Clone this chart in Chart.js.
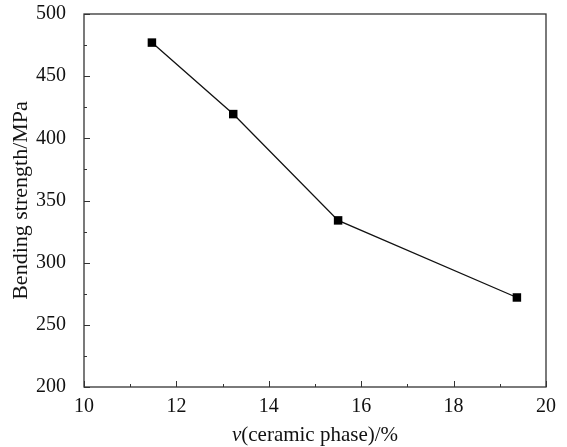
<!DOCTYPE html>
<html>
<head>
<meta charset="utf-8">
<script src="https://cdn.jsdelivr.net/npm/chart.js@4"></script>
<style>
  html, body { margin: 0; padding: 0; background: #fff; }
  #wrap { width: 567px; height: 447px; }
</style>
</head>
<body>
<div id="wrap"><canvas id="grafica"></canvas></div>
<script>
const ceramicPhase = [11.47, 13.23, 15.5, 19.37];
const bendingStrength = [477, 419.5, 334, 272];
const xTicks = [10, 12, 14, 16, 18, 20];
const yTicks = [200, 250, 300, 350, 400, 450, 500];

const FONT = "'Liberation Serif', 'Times New Roman', serif";

// frame + inward ticks + x title with italic v
const marcoPlugin = {
  id: 'marco',
  afterDraw(chart) {
    const { ctx, chartArea: a, scales } = chart;
    ctx.save();
    ctx.strokeStyle = '#333';
    ctx.lineWidth = 1.3;
    ctx.strokeRect(a.left, a.top, a.right - a.left, a.bottom - a.top);

    ctx.lineWidth = 1;
    ctx.beginPath();
    for (let v = 10; v <= 20; v += 1) {
      const px = Math.round(scales.x.getPixelForValue(v)) + 0.5;
      const len = v % 2 === 0 ? 6 : 3;
      ctx.moveTo(px, a.bottom);
      ctx.lineTo(px, a.bottom - len);
    }
    for (let v = 200; v <= 500; v += 25) {
      const py = Math.round(scales.y.getPixelForValue(v)) + 0.5;
      const len = v % 50 === 0 ? 6 : 3;
      ctx.moveTo(a.left, py);
      ctx.lineTo(a.left + len, py);
    }
    ctx.stroke();

    // x axis title
    ctx.fillStyle = '#111';
    ctx.textBaseline = 'alphabetic';
    const italico = 'italic 21px ' + FONT;
    const normal = '21px ' + FONT;
    ctx.font = italico;
    const w1 = ctx.measureText('v').width;
    ctx.font = normal;
    const resto = '(ceramic phase)/%';
    const w2 = ctx.measureText(resto).width;
    const cx = (a.left + a.right) / 2;
    const x0 = cx - (w1 + w2) / 2;
    const y0 = 441;
    ctx.font = italico;
    ctx.fillText('v', x0, y0);
    ctx.font = normal;
    ctx.fillText(resto, x0 + w1, y0);
    ctx.restore();
  }
};

new Chart(document.getElementById('grafica'), {
  type: 'line',
  data: {
    datasets: [{
      data: ceramicPhase.map((x, i) => ({ x, y: bendingStrength[i] })),
      borderColor: '#111',
      borderWidth: 1.3,
      backgroundColor: '#000',
      pointStyle: 'rect',
      pointRadius: 6,
      pointBorderWidth: 0,
      tension: 0
    }]
  },
  options: {
    responsive: true,
    maintainAspectRatio: false,
    animation: false,
    layout: { padding: { top: 14, right: 21, left: 0, bottom: 0 } },
    plugins: { legend: { display: false }, tooltip: { enabled: false } },
    scales: {
      x: {
        type: 'linear',
        min: 10, max: 20,
        afterBuildTicks: s => { s.ticks = xTicks.map(v => ({ value: v })); },
        afterFit: s => { s.height = 60; },
        grid: { display: false },
        border: { display: false },
        ticks: { color: '#111', padding: 0, font: { family: FONT, size: 20 } }
      },
      y: {
        min: 200, max: 500,
        afterBuildTicks: s => { s.ticks = yTicks.map(v => ({ value: v })); },
        afterFit: s => { s.width = 84; s.paddingTop = 0; s.paddingBottom = 0; },
        grid: { display: false },
        border: { display: false },
        title: { display: true, text: 'Bending strength/MPa', color: '#111', padding: { top: 8, bottom: 0 }, font: { family: FONT, size: 22 } },
        ticks: { color: '#111', padding: 10, font: { family: FONT, size: 20 } }
      }
    }
  },
  plugins: [marcoPlugin]
});
</script>
</body>
</html>
